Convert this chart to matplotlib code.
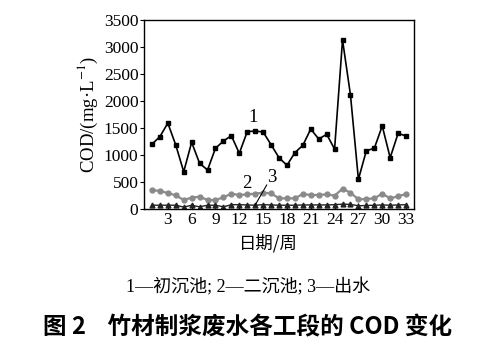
import matplotlib
matplotlib.use("Agg")
import matplotlib.pyplot as plt

weeks = list(range(1, 34))
primary = [1200, 1340, 1590, 1185, 690, 1235, 846, 722, 1124, 1259, 1358, 1031, 1432, 1444, 1426,
           1191, 950, 809, 1043, 1179, 1481, 1296, 1383, 1111, 3130, 2111, 550, 1080, 1124, 1537,
           950, 1401, 1352]
secondary = [352, 333, 296, 253, 167, 210, 228, 167, 167, 216, 284, 259, 271, 284, 302,
             290, 197, 197, 197, 278, 259, 259, 271, 247, 376, 302, 179, 185, 197, 284,
             197, 235, 278]
effluent = [70, 70, 70, 70, 35, 70, 40, 70, 70, 40, 80, 80, 75, 70, 80,
            75, 70, 70, 70, 75, 75, 75, 75, 80, 90, 85, 60, 65, 70, 75,
            70, 75, 80]
xticks = [3, 6, 9, 12, 15, 18, 21, 24, 27, 30, 33]
yticks = [0, 500, 1000, 1500, 2000, 2500, 3000, 3500]

plt.rcParams['font.family'] = ['Liberation Serif', 'Noto Sans CJK SC']
plt.rcParams['mathtext.fontset'] = 'stix'

fig = plt.figure(figsize=(5.04, 3.54), dpi=100)
ax = fig.add_axes([144/504, 1-209/354, 270/504, 189/354])

ax.plot(weeks, primary, color='black', lw=1.2, marker='s', ms=3.5)
ax.plot(weeks, secondary, color='#8a8a8a', lw=1.6, marker='o', ms=3.5)
ax.plot(weeks, effluent, color='#222222', lw=1.0, marker='^', ms=3.5)

ax.set_xlim(0, 34)
ax.set_ylim(0, 3500)
ax.set_xticks(xticks)
ax.set_yticks(yticks)
ax.tick_params(axis='x', direction='in', length=4, labelsize=12.5, pad=2)
ax.tick_params(axis='y', direction='out', length=3, labelsize=12.5, pad=1)
for s in ax.spines.values():
    s.set_linewidth(1.0)

ax.text(13.8, 1700, '1', fontsize=13.5, ha='center', va='center')
ax.text(12.9, 475, '2', fontsize=13.5, ha='center', va='center')
ax.text(16.1, 590, '3', fontsize=13.5, ha='center', va='center')
ax.plot([15.45, 14.0], [444, 74], color='black', lw=0.8)

ax.set_xlabel('日期/周', family=['Noto Sans CJK SC'], fontsize=12.5, labelpad=0)
ax.xaxis.set_label_coords(0.46, -0.13)
ax.set_ylabel('COD/(mg·L$^{-1}$)', fontsize=13.5, labelpad=3)

fig.text(248/504, 1-287/354, '1—初沉池; 2—二沉池; 3—出水', ha='center', va='center', fontsize=13,
         family=['Liberation Serif', 'Noto Sans CJK SC'])
fig.text(248/504, 1-327/354, '图 2    竹材制浆废水各工段的 COD 变化', ha='center', va='center',
         fontsize=17, fontweight='bold', family=['Noto Sans CJK SC'])

fig.savefig('out.png', dpi=100)
